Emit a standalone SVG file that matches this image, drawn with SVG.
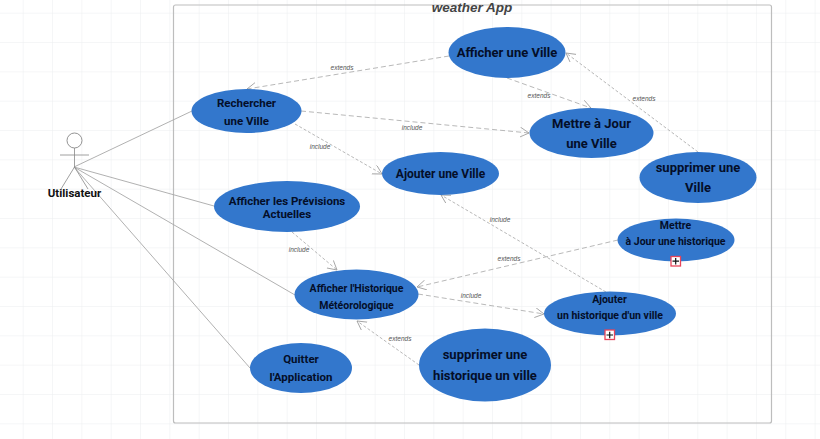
<svg xmlns="http://www.w3.org/2000/svg" width="820" height="439" viewBox="0 0 820 439">
<defs>
<marker id="arr" markerUnits="userSpaceOnUse" markerWidth="12" markerHeight="12" refX="9" refY="5" orient="auto"><path d="M0 0L9 5L0 10" fill="none" stroke="#999" stroke-width="0.8"/></marker>
<pattern id="grid" x="22.7" y="12.7" width="29.33" height="29.33" patternUnits="userSpaceOnUse"><path d="M0 29.33V0H29.33" fill="none" stroke="#eceef0" stroke-width="1"/></pattern>
</defs>
<style>
.uc{fill:#3377cc}
.t{font-family:Roboto,"Liberation Sans",sans-serif;font-weight:700;fill:#040e28;text-anchor:middle}
.s{stroke:#a8a8a8;stroke-width:.9;fill:none}
.d{stroke:#b0b0b0;stroke-width:.9;fill:none;stroke-dasharray:5 3;marker-end:url(#arr)}
.f{stroke-dasharray:3 2}
.l{font-family:"Liberation Sans",Arial,sans-serif;font-style:italic;font-size:6.5px;fill:#555;text-anchor:middle}
.b{fill:#fff;stroke:#e8455a;stroke-width:1.3}
.p{stroke:#111;stroke-width:1.2}
</style>
<rect width="820" height="439" fill="#fff"/>
<rect width="820" height="439" fill="url(#grid)"/>
<g id="frame"><rect x="173.500" y="5" width="598" height="418" rx="2" fill="none" stroke="#bdbdbd" stroke-width="1.2"/>
<text x="472" y="11.500" font-family="'Liberation Sans',Arial,sans-serif" font-weight="700" font-style="italic" font-size="13.500" fill="#444" text-anchor="middle">weather App</text></g>
<g id="connectors">
<path class="s" d="M74 167L192 111M74 167L214 206M74 167L295 295M74 167L250 368"/>
<path class="d" d="M449 56L247 89"/>
<path class="d" d="M507 78L591 108"/>
<path class="d f" d="M698 152L566 53"/>
<path class="d" d="M301 111L529 133"/>
<path class="d f" d="M295 124L382 174"/>
<path class="d f" d="M292 232L337 270"/>
<path class="d f" d="M606 292L441 195"/>
<path class="d" d="M618 240L417 287"/>
<path class="d" d="M418 294L544 314"/>
<path class="d f" d="M419 365L357 321"/>
<text class="l" x="342" y="69.500">extends</text>
<text class="l" x="539" y="98">extends</text>
<text class="l" x="644" y="101">extends</text>
<text class="l" x="412" y="129.500">include</text>
<text class="l" x="320" y="149">include</text>
<text class="l" x="299" y="252">include</text>
<text class="l" x="500" y="222">include</text>
<text class="l" x="509" y="260.500">extends</text>
<text class="l" x="471" y="298">include</text>
<text class="l" x="400" y="341">extends</text>
</g>
<g id="actor">
<circle cx="74.500" cy="140.500" r="7.500" fill="#fff" stroke="#777" stroke-width=".8"/>
<path d="M60 155H89M74.500 148V167M74.500 167L61 189M74.500 167L88 189" fill="none" stroke="#888" stroke-width=".8"/>
<text class="t" x="74.500" y="197" font-size="11.500" style="fill:#111">Utilisateur</text>
</g>
<g id="n1"><ellipse class="uc" cx="246.500" cy="111" rx="55" ry="22"/><text class="t" font-size="11.500" x="246.500" y="106.500">Rechercher</text><text class="t" font-size="11.500" x="246.500" y="124.500">une Ville</text></g>
<g id="n2"><ellipse class="uc" cx="287" cy="206.500" rx="73" ry="25.500"/><text class="t" font-size="11.500" x="287" y="204.500">Afficher les Prévisions</text><text class="t" font-size="11.500" x="287" y="218">Actuelles</text></g>
<g id="n3"><ellipse class="uc" cx="356.500" cy="294.500" rx="62" ry="25"/><text class="t" font-size="10.500" x="356.500" y="292">Afficher l'Historique</text><text class="t" font-size="10.500" x="356.500" y="309">Météorologique</text></g>
<g id="n4"><ellipse class="uc" cx="301" cy="368" rx="51" ry="25"/><text class="t" font-size="11.500" x="301" y="362.500">Quitter</text><text class="t" font-size="11.500" x="301" y="380.500">l'Application</text></g>
<g id="n5"><ellipse class="uc" cx="507" cy="52.500" rx="58.500" ry="25.500"/><text class="t" font-size="13" x="507" y="57">Afficher une Ville</text></g>
<g id="n6"><ellipse class="uc" cx="591.500" cy="133" rx="62" ry="25"/><text class="t" font-size="13" x="591.500" y="128">Mettre à Jour</text><text class="t" font-size="13" x="591.500" y="148">une Ville</text></g>
<g id="n7"><ellipse class="uc" cx="698" cy="177.500" rx="58.500" ry="25.500"/><text class="t" font-size="13" x="698" y="172">supprimer une</text><text class="t" font-size="13" x="698" y="192">Ville</text></g>
<g id="n8"><ellipse class="uc" cx="440.500" cy="173.500" rx="58.500" ry="21.500"/><text class="t" font-size="12" x="440.500" y="178">Ajouter une Ville</text></g>
<g id="n9"><ellipse class="uc" cx="676" cy="240" rx="58.500" ry="21.500"/><text class="t" font-size="10.500" x="675.500" y="229">Mettre</text><text class="t" font-size="10.500" x="675.500" y="245">à  Jour une historique</text>
<rect class="b" x="671" y="256.500" width="9.500" height="9.500"/><path class="p" d="M672.500 261.200h6.500M675.700 258v6.500"/></g>
<g id="n10"><ellipse class="uc" cx="610" cy="313.500" rx="66" ry="22"/><text class="t" font-size="10.500" x="609.500" y="302.500">Ajouter</text><text class="t" font-size="10.500" x="610" y="318.500">un historique d'un ville</text>
<rect class="b" x="605" y="330" width="9.500" height="9.500"/><path class="p" d="M606.500 335h6.500M609.700 331.800v6.500"/></g>
<g id="n11"><ellipse class="uc" cx="485" cy="365" rx="66" ry="36.500"/><text class="t" font-size="13" x="485" y="359">supprimer une</text><text class="t" font-size="13" x="485" y="380">historique un ville</text></g>
</svg>
